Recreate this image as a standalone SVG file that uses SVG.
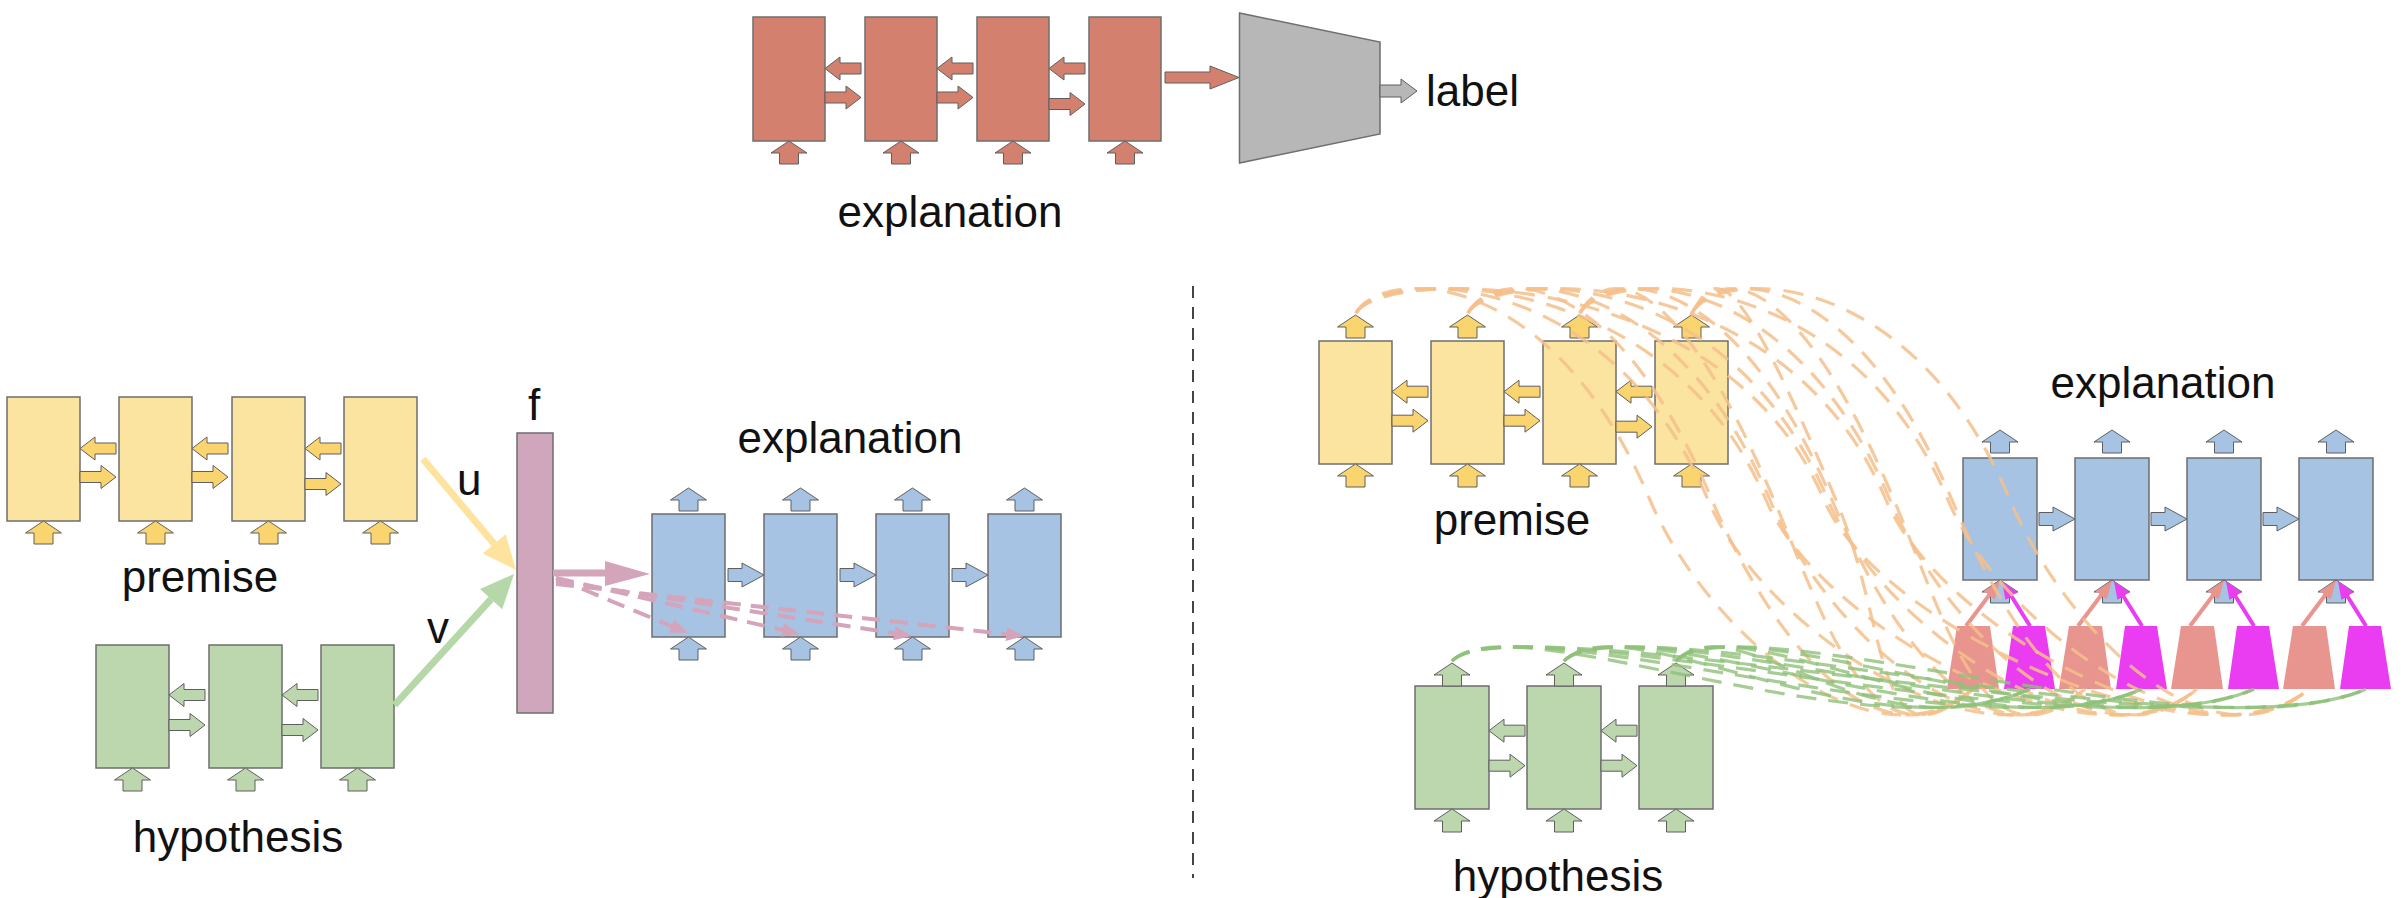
<svg xmlns="http://www.w3.org/2000/svg" width="2404" height="898" viewBox="0 0 2404 898">
<style>
.box{stroke:#6e6e6e;stroke-width:1.5}
.ar{stroke:#5f5f5f;stroke-width:1}
.red{fill:#d4806e}
.yel{fill:#fbe3a0}
.yar{fill:#fad46e}
.grn{fill:#bcd7ad}
.blu{fill:#a6c3e4}
.sal{fill:#e8948f}
.mag{fill:#ea3cf0}
.lbl{font-family:"Liberation Sans",Arial,Helvetica,sans-serif;font-size:44px;fill:#111}
.od{fill:none;stroke:#f5c08c;stroke-width:3.2;stroke-dasharray:20 13;opacity:0.85}
.gd{fill:none;stroke:#8fc079;stroke-width:3.2;stroke-dasharray:20 12;opacity:0.8}
.pd{fill:none;stroke:#d4a4bb;stroke-width:4;stroke-dasharray:18 10}
</style>
<defs>
<path id="up" d="M0,0 L18,12 L9.5,12 L9.5,23 L-9.5,23 L-9.5,12 L-18,12 Z"/>
<path id="rt" d="M0,0 L-15,-11.5 L-15,-5.5 L-36,-5.5 L-36,5.5 L-15,5.5 L-15,11.5 Z"/>
<path id="lt" d="M0,0 L15,-11.5 L15,-5.5 L36,-5.5 L36,5.5 L15,5.5 L15,11.5 Z"/>
<path id="brt" d="M0,0 L-22,-12 L-22,-6.5 L-36,-6.5 L-36,6.5 L-22,6.5 L-22,12 Z"/>
<marker id="mS" markerUnits="userSpaceOnUse" markerWidth="18" markerHeight="14" viewBox="0 0 18 14" refX="6" refY="7" orient="auto"><path d="M0,0 L18,7 L0,14 Z" fill="#e8948f"/></marker>
<marker id="mM" markerUnits="userSpaceOnUse" markerWidth="18" markerHeight="14" viewBox="0 0 18 14" refX="6" refY="7" orient="auto"><path d="M0,0 L18,7 L0,14 Z" fill="#ea3cf0"/></marker>
<marker id="mP" markerUnits="userSpaceOnUse" markerWidth="18" markerHeight="14" viewBox="0 0 18 14" refX="6" refY="7" orient="auto"><path d="M0,0 L18,7 L0,14 Z" fill="#d4a4bb"/></marker>
</defs>

<!-- top classifier -->
<g id="top-exp-1"><rect class="box red" x="753" y="17" width="72" height="124"/><use href="#up" x="789" y="141" class="ar red"/></g>
<g id="top-exp-2"><rect class="box red" x="865" y="17" width="72" height="124"/><use href="#up" x="901" y="141" class="ar red"/></g>
<g id="top-exp-3"><rect class="box red" x="977" y="17" width="72" height="124"/><use href="#up" x="1013" y="141" class="ar red"/></g>
<g id="top-exp-4"><rect class="box red" x="1089" y="17" width="72" height="124"/><use href="#up" x="1125" y="141" class="ar red"/></g>
<g id="classifier"><path class="box" fill="#b7b7b7" d="M1239.5,13 L1380,42 L1380,134 L1239.5,163 Z"/></g>

<!-- left: premise -->
<g id="l-prem-1"><rect class="box yel" x="7" y="397" width="73" height="124"/><use href="#up" x="43.5" y="521" class="ar yar"/></g>
<g id="l-prem-2"><rect class="box yel" x="119" y="397" width="73" height="124"/><use href="#up" x="155.5" y="521" class="ar yar"/></g>
<g id="l-prem-3"><rect class="box yel" x="232" y="397" width="73" height="124"/><use href="#up" x="268.5" y="521" class="ar yar"/></g>
<g id="l-prem-4"><rect class="box yel" x="344" y="397" width="73" height="124"/><use href="#up" x="380.5" y="521" class="ar yar"/></g>

<!-- left: hypothesis -->
<g id="l-hyp-1"><rect class="box grn" x="96" y="645" width="73" height="123"/><use href="#up" x="132.5" y="768" class="ar grn"/></g>
<g id="l-hyp-2"><rect class="box grn" x="209" y="645" width="73" height="123"/><use href="#up" x="245.5" y="768" class="ar grn"/></g>
<g id="l-hyp-3"><rect class="box grn" x="321" y="645" width="73" height="123"/><use href="#up" x="357.5" y="768" class="ar grn"/></g>

<g id="f-bar"><rect class="box" fill="#cfa6bb" x="517" y="433" width="36" height="280"/></g>

<!-- left: explanation decoder -->
<g id="l-exp-1"><rect class="box blu" x="652" y="514" width="73" height="123"/><use href="#up" x="688.5" y="488" class="ar blu"/><use href="#up" x="688.5" y="637" class="ar blu"/></g>
<g id="l-exp-2"><rect class="box blu" x="764" y="514" width="73" height="123"/><use href="#up" x="800.5" y="488" class="ar blu"/><use href="#up" x="800.5" y="637" class="ar blu"/></g>
<g id="l-exp-3"><rect class="box blu" x="876" y="514" width="73" height="123"/><use href="#up" x="912.5" y="488" class="ar blu"/><use href="#up" x="912.5" y="637" class="ar blu"/></g>
<g id="l-exp-4"><rect class="box blu" x="988" y="514" width="73" height="123"/><use href="#up" x="1024.5" y="488" class="ar blu"/><use href="#up" x="1024.5" y="637" class="ar blu"/></g>

<!-- right: premise -->
<g id="r-prem-1"><rect class="box yel" x="1319" y="341" width="73" height="123"/><use href="#up" x="1355.5" y="315" class="ar yar"/><use href="#up" x="1355.5" y="464" class="ar yar"/></g>
<g id="r-prem-2"><rect class="box yel" x="1431" y="341" width="73" height="123"/><use href="#up" x="1467.5" y="315" class="ar yar"/><use href="#up" x="1467.5" y="464" class="ar yar"/></g>
<g id="r-prem-3"><rect class="box yel" x="1543" y="341" width="73" height="123"/><use href="#up" x="1579.5" y="315" class="ar yar"/><use href="#up" x="1579.5" y="464" class="ar yar"/></g>
<g id="r-prem-4"><rect class="box yel" x="1655" y="341" width="73" height="123"/><use href="#up" x="1691.5" y="315" class="ar yar"/><use href="#up" x="1691.5" y="464" class="ar yar"/></g>

<!-- right: hypothesis -->
<g id="r-hyp-1"><rect class="box grn" x="1415" y="686" width="74" height="123"/><use href="#up" x="1452" y="663" class="ar grn"/><use href="#up" x="1452" y="809" class="ar grn"/></g>
<g id="r-hyp-2"><rect class="box grn" x="1527" y="686" width="74" height="123"/><use href="#up" x="1564" y="663" class="ar grn"/><use href="#up" x="1564" y="809" class="ar grn"/></g>
<g id="r-hyp-3"><rect class="box grn" x="1639" y="686" width="74" height="123"/><use href="#up" x="1676" y="663" class="ar grn"/><use href="#up" x="1676" y="809" class="ar grn"/></g>

<!-- right: explanation decoder -->
<g id="r-exp-1"><rect class="box blu" x="1963" y="458" width="74" height="122"/><use href="#up" x="2000" y="430" class="ar blu"/><use href="#up" x="2000" y="580" class="ar blu"/></g>
<g id="r-exp-2"><rect class="box blu" x="2075" y="458" width="74" height="122"/><use href="#up" x="2112" y="430" class="ar blu"/><use href="#up" x="2112" y="580" class="ar blu"/></g>
<g id="r-exp-3"><rect class="box blu" x="2187" y="458" width="74" height="122"/><use href="#up" x="2224" y="430" class="ar blu"/><use href="#up" x="2224" y="580" class="ar blu"/></g>
<g id="r-exp-4"><rect class="box blu" x="2299" y="458" width="74" height="122"/><use href="#up" x="2336" y="430" class="ar blu"/><use href="#up" x="2336" y="580" class="ar blu"/></g>

<!-- attention modules -->
<g id="att-p-1"><path class="sal" d="M1957,626 L1990,626 L1999,689 L1947,689 Z"/></g>
<g id="att-h-1"><path class="mag" d="M2013,626 L2045,626 L2055,689 L2004,689 Z"/></g>
<g id="att-p-2"><path class="sal" d="M2069,626 L2102,626 L2111,689 L2059,689 Z"/></g>
<g id="att-h-2"><path class="mag" d="M2125,626 L2157,626 L2167,689 L2116,689 Z"/></g>
<g id="att-p-3"><path class="sal" d="M2181,626 L2214,626 L2223,689 L2171,689 Z"/></g>
<g id="att-h-3"><path class="mag" d="M2237,626 L2269,626 L2279,689 L2228,689 Z"/></g>
<g id="att-p-4"><path class="sal" d="M2293,626 L2326,626 L2335,689 L2283,689 Z"/></g>
<g id="att-h-4"><path class="mag" d="M2349,626 L2381,626 L2391,689 L2340,689 Z"/></g>

<g id="connectors">
  <!-- top recurrent arrows -->
  <use href="#lt" x="825" y="68.5" class="ar red"/><use href="#lt" x="937" y="68.5" class="ar red"/><use href="#lt" x="1049" y="68.5" class="ar red"/>
  <use href="#rt" x="861" y="97.5" class="ar red"/><use href="#rt" x="973" y="97.5" class="ar red"/><use href="#rt" x="1085" y="104" class="ar red"/>
  <path class="ar red" d="M1165,72 L1210,72 L1210,66 L1239,77.5 L1210,89 L1210,83 L1165,83 Z"/>
  <path class="ar" fill="#b7b7b7" d="M1380,85 L1401,85 L1401,79 L1417,91 L1401,103 L1401,97 L1380,97 Z"/>
  <!-- left premise -->
  <use href="#lt" x="80" y="448.5" class="ar yar"/><use href="#lt" x="192" y="448.5" class="ar yar"/><use href="#lt" x="305" y="448.5" class="ar yar"/>
  <use href="#rt" x="116" y="477" class="ar yar"/><use href="#rt" x="228" y="477" class="ar yar"/><use href="#rt" x="341" y="484" class="ar yar"/>
  <!-- left hypothesis -->
  <use href="#lt" x="169" y="695" class="ar grn"/><use href="#lt" x="282" y="695" class="ar grn"/>
  <use href="#rt" x="205" y="725" class="ar grn"/><use href="#rt" x="318" y="730" class="ar grn"/>
  <!-- u, v -->
  <line x1="423" y1="459" x2="494.2" y2="543.9" stroke="#fde39e" stroke-width="7"/>
  <polygon points="482.7,553.5 516,570 505.7,534.3" fill="#fde39e"/>
  <line x1="394.6" y1="705" x2="491.1" y2="599.1" stroke="#b6d7a8" stroke-width="7"/>
  <polygon points="502.2,609.2 514,574 480,589" fill="#b6d7a8"/>
  <!-- f to decoder -->
  <rect x="553" y="569.5" width="55" height="7" fill="#d4a4bb"/>
  <polygon points="605,561 650,574 605,586" fill="#d4a4bb"/>
  <path class="pd" d="M556,578 L676.9,628.4" marker-end="url(#mP)"/>
  <path class="pd" d="M556,578 L788.3,631.3" marker-end="url(#mP)"/>
  <path class="pd" d="M556,581 L900.1,634.2" marker-end="url(#mP)"/>
  <path class="pd" d="M556,584 L1012.1,634.7" marker-end="url(#mP)"/>
  <!-- left decoder recurrence -->
  <use href="#brt" x="764" y="575" class="ar blu"/><use href="#brt" x="876" y="575" class="ar blu"/><use href="#brt" x="988" y="575" class="ar blu"/>
  <!-- right premise -->
  <use href="#lt" x="1392" y="391.7" class="ar yar"/><use href="#lt" x="1504" y="391.7" class="ar yar"/><use href="#lt" x="1616" y="391.7" class="ar yar"/>
  <use href="#rt" x="1428" y="420.7" class="ar yar"/><use href="#rt" x="1540" y="420.7" class="ar yar"/><use href="#rt" x="1652" y="426.7" class="ar yar"/>
  <!-- right hypothesis -->
  <use href="#lt" x="1489" y="730.7" class="ar grn"/><use href="#lt" x="1601" y="730.7" class="ar grn"/>
  <use href="#rt" x="1525" y="765.7" class="ar grn"/><use href="#rt" x="1637" y="765.7" class="ar grn"/>
  <!-- right decoder recurrence -->
  <use href="#brt" x="2075" y="519" class="ar blu"/><use href="#brt" x="2187" y="519" class="ar blu"/><use href="#brt" x="2299" y="519" class="ar blu"/>
  <!-- attention outputs -->
  <path d="M1966,626 L1992.7,590.5" stroke="#e8948f" stroke-width="4" marker-end="url(#mS)"/>
  <path d="M2030,626 L2008.3,591.2" stroke="#ea3cf0" stroke-width="4" marker-end="url(#mM)"/>
  <path d="M2078,626 L2104.7,590.5" stroke="#e8948f" stroke-width="4" marker-end="url(#mS)"/>
  <path d="M2142,626 L2120.3,591.2" stroke="#ea3cf0" stroke-width="4" marker-end="url(#mM)"/>
  <path d="M2190,626 L2216.7,590.5" stroke="#e8948f" stroke-width="4" marker-end="url(#mS)"/>
  <path d="M2254,626 L2232.3,591.2" stroke="#ea3cf0" stroke-width="4" marker-end="url(#mM)"/>
  <path d="M2302,626 L2328.7,590.5" stroke="#e8948f" stroke-width="4" marker-end="url(#mS)"/>
  <path d="M2366,626 L2344.3,591.2" stroke="#ea3cf0" stroke-width="4" marker-end="url(#mM)"/>
  <!-- premise attention (orange dashed) -->
  <path class="od" d="M1356 313 C1381 268 1550 262 1650 500 C1705 630 1873 775 1973 689"/>
  <path class="od" d="M1356 313 C1381 268 1608 262 1708 500 C1763 630 1985 775 2085 689"/>
  <path class="od" d="M1356 313 C1381 268 1666 262 1766 500 C1821 630 2097 775 2197 689"/>
  <path class="od" d="M1356 313 C1381 268 1724 262 1824 500 C1879 630 2209 775 2309 689"/>
  <path class="od" d="M1468 313 C1493 268 1612 262 1712 500 C1767 630 1873 775 1973 689"/>
  <path class="od" d="M1468 313 C1493 268 1670 262 1770 500 C1825 630 1985 775 2085 689"/>
  <path class="od" d="M1468 313 C1493 268 1728 262 1828 500 C1883 630 2097 775 2197 689"/>
  <path class="od" d="M1468 313 C1493 268 1786 262 1886 500 C1941 630 2209 775 2309 689"/>
  <path class="od" d="M1580 313 C1605 268 1674 262 1774 500 C1829 630 1873 775 1973 689"/>
  <path class="od" d="M1580 313 C1605 268 1732 262 1832 500 C1887 630 1985 775 2085 689"/>
  <path class="od" d="M1580 313 C1605 268 1790 262 1890 500 C1945 630 2097 775 2197 689"/>
  <path class="od" d="M1580 313 C1605 268 1848 262 1948 500 C2003 630 2209 775 2309 689"/>
  <path class="od" d="M1692 313 C1717 268 1736 262 1836 500 C1891 630 1873 775 1973 689"/>
  <path class="od" d="M1692 313 C1717 268 1794 262 1894 500 C1949 630 1985 775 2085 689"/>
  <path class="od" d="M1692 313 C1717 268 1852 262 1952 500 C2007 630 2097 775 2197 689"/>
  <path class="od" d="M1692 313 C1717 268 1910 262 2010 500 C2065 630 2209 775 2309 689"/>
  <!-- hypothesis attention (green dashed) -->
  <path class="gd" d="M1452 661 C1512 600 1870 760 2030 689"/>
  <path class="gd" d="M1452 661 C1512 600 1982 760 2142 689"/>
  <path class="gd" d="M1452 661 C1512 600 2094 760 2254 689"/>
  <path class="gd" d="M1452 661 C1512 600 2206 760 2366 689"/>
  <path class="gd" d="M1564 661 C1624 600 1870 760 2030 689"/>
  <path class="gd" d="M1564 661 C1624 600 1982 760 2142 689"/>
  <path class="gd" d="M1564 661 C1624 600 2094 760 2254 689"/>
  <path class="gd" d="M1564 661 C1624 600 2206 760 2366 689"/>
  <path class="gd" d="M1676 661 C1736 600 1870 760 2030 689"/>
  <path class="gd" d="M1676 661 C1736 600 1982 760 2142 689"/>
  <path class="gd" d="M1676 661 C1736 600 2094 760 2254 689"/>
  <path class="gd" d="M1676 661 C1736 600 2206 760 2366 689"/>
</g>

<line id="divider" x1="1193" y1="286" x2="1193" y2="878" stroke="#444" stroke-width="2" stroke-dasharray="12 9"/>

<g id="labels">
  <text class="lbl" x="950" y="227" text-anchor="middle">explanation</text>
  <text class="lbl" x="1426" y="106">label</text>
  <text class="lbl" x="200" y="592" text-anchor="middle">premise</text>
  <text class="lbl" x="238" y="852" text-anchor="middle">hypothesis</text>
  <text class="lbl" x="457" y="495">u</text>
  <text class="lbl" x="427" y="643">v</text>
  <text class="lbl" x="528" y="420">f</text>
  <text class="lbl" x="850" y="453" text-anchor="middle">explanation</text>
  <text class="lbl" x="1512" y="535" text-anchor="middle">premise</text>
  <text class="lbl" x="2163" y="398" text-anchor="middle">explanation</text>
  <text class="lbl" x="1558" y="891" text-anchor="middle">hypothesis</text>
</g>
</svg>
